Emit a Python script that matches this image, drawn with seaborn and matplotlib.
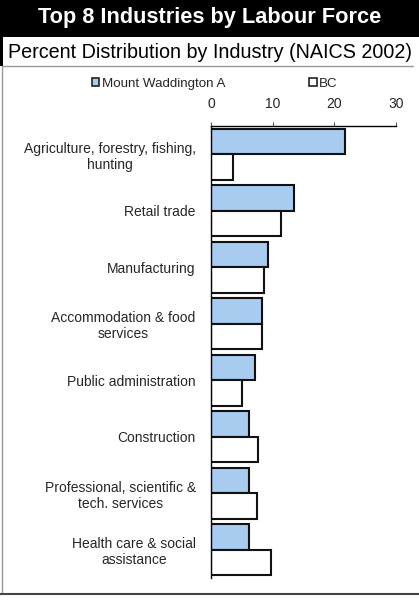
import numpy as np
import pandas as pd
import matplotlib
matplotlib.use("Agg")
import matplotlib.pyplot as plt
import seaborn as sns
from matplotlib.patches import Patch, Rectangle
from matplotlib.lines import Line2D

# ==============================
# Data
# ==============================
industries = [
    "Agriculture, forestry, fishing,\nhunting",
    "Retail trade",
    "Manufacturing",
    "Accommodation & food\nservices",
    "Public administration",
    "Construction",
    "Professional, scientific &\ntech. services",
    "Health care & social\nassistance",
]
mount_waddington = [21.7, 13.4, 9.3, 8.3, 7.2, 6.2, 6.2, 6.2]
bc = [3.5, 11.4, 8.6, 8.2, 5.1, 7.6, 7.4, 9.7]
series_names = ["Mount Waddington A", "BC"]
x_ticks = [0, 10, 20, 30]

df = pd.DataFrame({
    "industry": industries * 2,
    "pct": mount_waddington + bc,
    "series": [series_names[0]] * len(industries) + [series_names[1]] * len(industries),
})

# ==============================
# Plot
# ==============================
sns.set_style("white")
plt.rcParams['font.family'] = ['Liberation Sans', 'DejaVu Sans']

blue = "#A8CBF0"
palette = {series_names[0]: blue, series_names[1]: "white"}

fig = plt.figure(figsize=(4.19, 6.03), dpi=100)
ax = fig.add_axes([211 / 419, 1 - 578 / 603, 185 / 419, 452 / 603])

sns.barplot(data=df, y="industry", x="pct", hue="series", palette=palette,
            orient="h", width=0.91, edgecolor="#111111", linewidth=1.5,
            legend=False, ax=ax, saturation=1)

ax.set_xlim(0, 30)
ax.set_xticks(x_ticks)
ax.xaxis.tick_top()
ax.tick_params(axis="x", direction="out", length=3, width=0.8, color="#555555",
               pad=8, labelsize=10)
ax.tick_params(axis="y", length=0, pad=11, labelsize=10)
for lab in ax.get_yticklabels():
    lab.set_multialignment("center")
ax.set_xlabel("")
ax.set_ylabel("")
ax.spines["right"].set_visible(False)
ax.spines["bottom"].set_visible(False)
ax.spines["top"].set_color("black")
ax.spines["left"].set_color("black")
ax.spines["top"].set_linewidth(1.0)
ax.spines["left"].set_linewidth(1.0)
ax.grid(False)

# legend
handles = [Patch(facecolor=blue, edgecolor="#222222", linewidth=1.2),
           Patch(facecolor="white", edgecolor="#222222", linewidth=1.2)]
fig.legend(handles, series_names, loc="center", bbox_to_anchor=(0.513, 1 - 84 / 603),
           ncol=2, frameon=False, fontsize=9.6, handlelength=0.55, handleheight=0.55,
           handletextpad=0.2, columnspacing=6.3)

# title band
fig.patches.append(Rectangle((0, 1 - 37 / 603), 1, 37 / 603, transform=fig.transFigure,
                             facecolor="black", edgecolor="none", zorder=0))
fig.patches.append(Rectangle((0, 1 - 66 / 603), 3 / 419, 29 / 603, transform=fig.transFigure,
                             facecolor="black", edgecolor="none", zorder=0))
fig.text(0.5, 1 - 18 / 603, "Top 8 Industries by Labour Force", ha="center", va="center",
         color="white", fontsize=15.7, fontweight="bold")
fig.text(0.5, 1 - 52 / 603, "Percent Distribution by Industry (NAICS 2002)", ha="center",
         va="center", color="black", fontsize=14.2)

# frame lines
fig.add_artist(Line2D([2 / 419, 413 / 419], [1 - 66 / 603, 1 - 66 / 603], color="#999999", lw=1))
fig.add_artist(Line2D([2 / 419, 2 / 419], [1 - 66 / 603, 1 - 594 / 603], color="#999999", lw=1))
fig.add_artist(Line2D([0, 1], [1 - 594 / 603, 1 - 594 / 603], color="#444444", lw=1.5))

fig.savefig("out.png", dpi=100)
